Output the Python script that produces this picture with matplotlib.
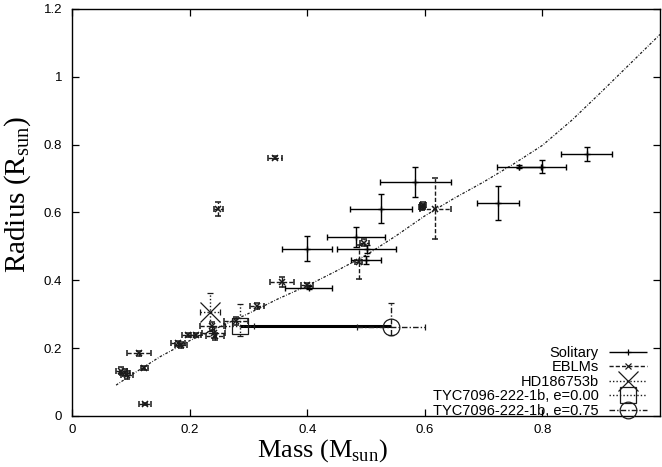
import matplotlib
matplotlib.use("Agg")
import matplotlib.pyplot as plt
from matplotlib.legend_handler import HandlerErrorbar

plt.rcParams['font.family'] = ['Liberation Sans', 'DejaVu Sans']
plt.rcParams['mathtext.fontset'] = 'custom'
plt.rcParams['mathtext.rm'] = 'Liberation Serif'

# ---- data ----
# Solitary stars
sol_mass = [0.400, 0.584, 0.724, 0.800, 0.760, 0.875, 0.525, 0.483, 0.501, 0.500, 0.403]
sol_rad = [0.493, 0.690, 0.629, 0.735, 0.735, 0.772, 0.611, 0.527, 0.493, 0.460, 0.378]
sol_merr = [0.043, 0.060, 0.036, 0.040, 0.037, 0.044, 0.053, 0.050, 0.050, 0.026, 0.040]
sol_rerr = [0.037, 0.043, 0.050, 0.020, 0.005, 0.021, 0.043, 0.030, 0.012, 0.012, 0.005]

# EBLMs
eb_mass = [0.345, 0.249, 0.357, 0.400, 0.314, 0.279, 0.238, 0.241, 0.243, 0.211, 0.197,
           0.186, 0.180, 0.114, 0.123, 0.084, 0.093, 0.090, 0.124, 0.618, 0.595, 0.597,
           0.488, 0.497]
eb_rad = [0.762, 0.611, 0.395, 0.385, 0.324, 0.281, 0.265, 0.246, 0.235, 0.239, 0.239,
          0.209, 0.214, 0.185, 0.142, 0.133, 0.121, 0.128, 0.035, 0.611, 0.616, 0.622,
          0.453, 0.511]
eb_merr = [0.012, 0.008, 0.020, 0.010, 0.012, 0.020, 0.020, 0.020, 0.015, 0.008, 0.010,
           0.010, 0.012, 0.020, 0.006, 0.010, 0.010, 0.008, 0.010, 0.027, 0.005, 0.005,
           0.006, 0.008]
eb_rerr = [0.005, 0.020, 0.015, 0.008, 0.008, 0.012, 0.012, 0.015, 0.010, 0.006, 0.006,
           0.008, 0.008, 0.008, 0.006, 0.010, 0.012, 0.010, 0.004, 0.090, 0.008, 0.008,
           0.050, 0.010]

# HD186753b
hd_mass = [0.235]
hd_rad = [0.308]
hd_merr = [0.017]
hd_rerr = [0.056]

# TYC7096-222-1b
tyc0_mass = [0.285]
tyc0_rad = [0.265]
tyc0_merr = [0.025]
tyc0_rerr_lo = [0.030]
tyc0_rerr_hi = [0.065]

tyc75_mass = [0.543]
tyc75_rad = [0.263]
tyc75_merr = [0.058]
tyc75_rerr_lo = [0.025]
tyc75_rerr_hi = [0.070]

track_mass = [0.285, 0.543]
track_rad = [0.265, 0.265]

# theoretical mass-radius relation
model_mass = [0.075, 0.10, 0.15, 0.20, 0.25, 0.30, 0.35, 0.40, 0.45, 0.50, 0.55,
              0.60, 0.65, 0.70, 0.75, 0.80, 0.85, 0.90, 0.95, 1.00]
model_rad = [0.091, 0.120, 0.175, 0.222, 0.262, 0.302, 0.345, 0.384, 0.428, 0.474, 0.530,
             0.590, 0.642, 0.690, 0.742, 0.798, 0.872, 0.955, 1.040, 1.125]

labels = ['Solitary', 'EBLMs', 'HD186753b', 'TYC7096-222-1b, e=0.00', 'TYC7096-222-1b, e=0.75']

# ---- figure ----
fig = plt.figure(figsize=(6.62, 4.67), dpi=100)
ax = fig.add_axes([72 / 662, 51 / 467, 588 / 662, 407 / 467])

ax.plot(model_mass, model_rad, color='0.1', lw=0.9, linestyle=(0, (2.0, 1.3, 0.6, 1.3)))


def eb(x, y, xe, ye, fmt, ms, color, ls, mew=1.0, mfc='none', label=None, cap=2.5):
    c = ax.errorbar(x, y, xerr=xe, yerr=ye, fmt=fmt, ms=ms, color=color, ecolor=color,
                    elinewidth=1.0, capsize=cap, capthick=1.0, mew=mew, mfc=mfc, label=label)
    for b in c[2]:
        b.set_linestyle(ls)
    return c


eb(sol_mass, sol_rad, sol_merr, sol_rerr, '+', 4, 'black', '-')
eb(eb_mass, eb_rad, eb_merr, eb_rerr, 'x', 4, '0.1', (0, (3, 1.5)), mew=1.1)
eb(hd_mass, hd_rad, hd_merr, hd_rerr, 'x', 14, '0.1', (0, (1, 1.5)), mew=0.9)
ax.plot(track_mass, track_rad, color='black', lw=2.2, solid_capstyle='butt')
eb(tyc0_mass, tyc0_rad, tyc0_merr, [tyc0_rerr_lo, tyc0_rerr_hi], 's', 12, '0.1',
   (0, (1, 1.5)), mew=0.9)
eb(tyc75_mass, tyc75_rad, tyc75_merr, [tyc75_rerr_lo, tyc75_rerr_hi], 'o', 12, '0.1',
   (0, (4, 1.5, 1, 1.5)), mew=0.9)

# legend handles (horizontal error-bar samples)
handles = []
styles = [('+', 4, 'black', '-'), ('x', 4, '0.1', (0, (3, 1.5))), ('x', 14, '0.1', (0, (1, 1.5))),
          ('s', 12, '0.1', (0, (1, 1.5))), ('o', 12, '0.1', (0, (4, 1.5, 1, 1.5)))]
for lab, (m, s, col, ls) in zip(labels, styles):
    c = ax.errorbar([], [], xerr=[], fmt=m, ms=s, color=col, ecolor=col, elinewidth=1.0,
                    capsize=2.5, capthick=1.0, mew=0.9, mfc='none', label=lab)
    for b in c[2]:
        b.set_linestyle(ls)
    handles.append(c)

leg = ax.legend(handles=handles, loc='lower right', frameon=False, fontsize=10.5,
                markerfirst=False, handlelength=2.6, handletextpad=0.7, labelspacing=0.04,
                borderaxespad=0.0, borderpad=0.0, bbox_to_anchor=(0.978, -0.005),
                handler_map={type(handles[0]): HandlerErrorbar(xerr_size=1.3, numpoints=1)})

ax.set_xlim(0, 1.0)
ax.set_ylim(0, 1.2)
ax.set_xticks([0, 0.2, 0.4, 0.6, 0.8])
ax.set_xticklabels(['0', '0.2', '0.4', '0.6', '0.8'])
ax.set_yticks([0, 0.2, 0.4, 0.6, 0.8, 1.0, 1.2])
ax.set_yticklabels(['0', '0.2', '0.4', '0.6', '0.8', '1', '1.2'])
ax.tick_params(direction='in', length=5, width=0.9, top=True, right=True, labelsize=9.5,
               pad=7)
ax.tick_params(axis='x', pad=6)
for sp in ax.spines.values():
    sp.set_linewidth(1.0)

ax.set_xlabel(r'Mass (M$_{\mathrm{sun}}$)', fontsize=19, family='Liberation Serif',
              va='center')
ax.set_ylabel(r'Radius (R$_{\mathrm{sun}}$)', fontsize=21, family='Liberation Serif',
              va='center')
ax.xaxis.set_label_coords(0.425, -0.085)
ax.yaxis.set_label_coords(-0.092, 0.545)

fig.savefig('out.png', dpi=100)
